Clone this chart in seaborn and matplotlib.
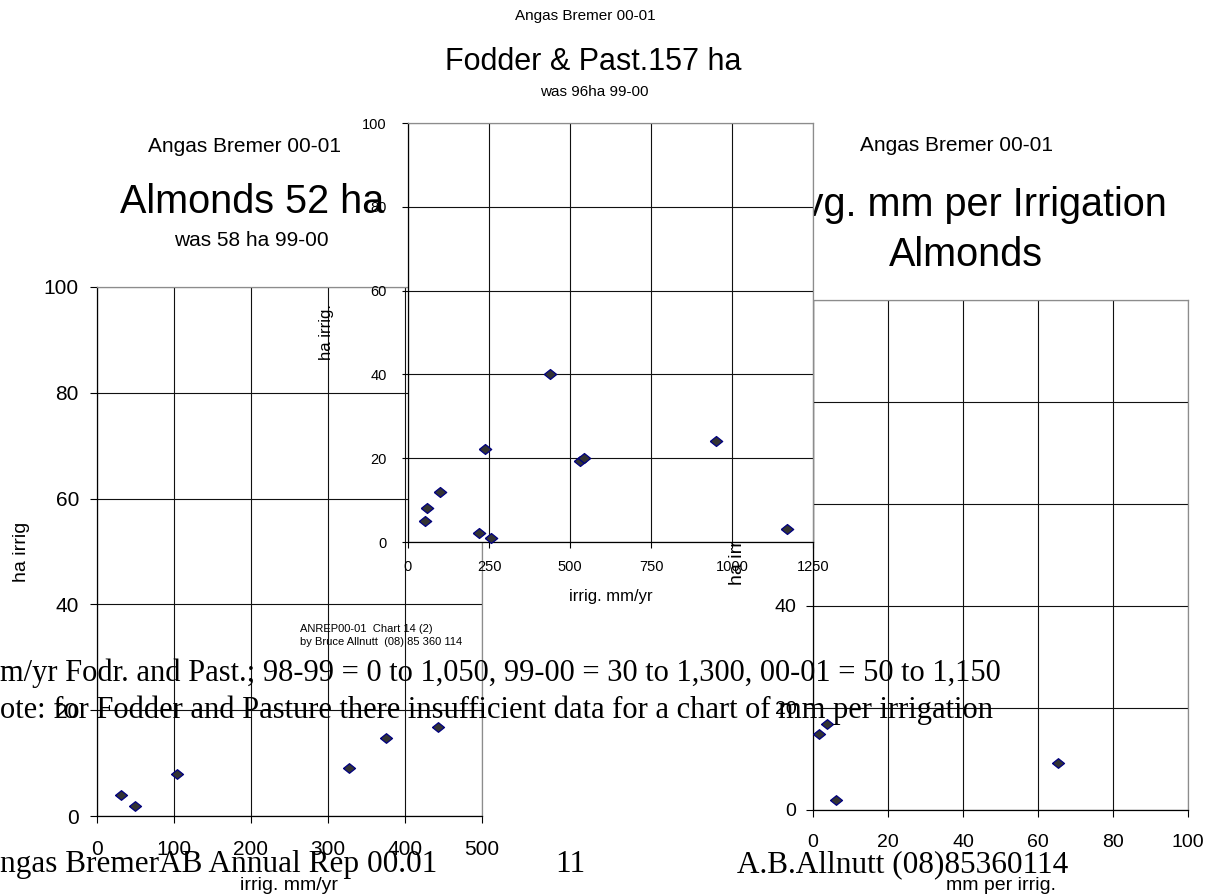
import matplotlib
matplotlib.use("Agg")
import matplotlib.pyplot as plt
import pandas as pd
import seaborn as sns

# -----------------------------
# Data
# -----------------------------
almond_mm_yr = [31.6, 49.8, 104.3, 326.8, 374.9, 443.5]
almond_ha = [3.9, 1.9, 7.9, 9.1, 14.8, 16.9]

fodder_mm_yr = [53.5, 57.6, 97.7, 218.0, 238.7, 255.0, 438.0, 530.0, 544.0, 951.6, 1171.0]
fodder_ha = [5.0, 8.0, 12.0, 2.1, 22.1, 1.0, 40.0, 19.4, 20.0, 24.1, 3.0]

almond_mm_per_irrig = [1.5, 3.6, 6.2, 65.3]
almond_ha_per_irrig = [14.9, 16.9, 2.0, 9.2]

almond_xticks = [0, 100, 200, 300, 400, 500]
fodder_xticks = [0, 250, 500, 750, 1000, 1250]
per_irrig_xticks = [0, 20, 40, 60, 80, 100]
ha_yticks = [0, 20, 40, 60, 80, 100]

# -----------------------------
# Configuration
# -----------------------------
sns.set_style("ticks")
plt.rcParams["font.family"] = ["Liberation Sans", "DejaVu Sans"]
plt.rcParams.update({"text.color": "black", "axes.labelcolor": "black",
                     "xtick.color": "black", "ytick.color": "black"})
SERIF = ["Liberation Serif", "DejaVu Serif"]

W, H = 1218, 896
fig = plt.figure(figsize=(W / 100, H / 100), dpi=100)
fig.patch.set_facecolor("white")

# excel style diamond, a little flatter than tall
DIAMOND = [(-1, 0), (0, 0.8), (1, 0), (0, -0.8), (-1, 0)]


def px(x, y):
    return x / W, 1 - y / H


def box(x0, y0, x1, y1):
    return [x0 / W, 1 - y1 / H, (x1 - x0) / W, (y1 - y0) / H]


def style_axes(ax, xticks, size, tick_len, pad_x, pad_y):
    ax.set_xlim(xticks[0], xticks[-1])
    ax.set_ylim(0, 100)
    ax.set_xticks(xticks)
    ax.set_yticks(ha_yticks)
    ax.grid(True, color="#111111", lw=0.8)
    ax.set_axisbelow(True)
    ax.set_facecolor("white")
    for side in ["top", "right"]:
        ax.spines[side].set_color("#8c8c8c")
        ax.spines[side].set_linewidth(0.9)
    for side in ["left", "bottom"]:
        ax.spines[side].set_color("black")
        ax.spines[side].set_linewidth(0.9)
    ax.tick_params(direction="out", length=tick_len, width=0.8, color="black",
                   labelsize=size, labelcolor="black")
    ax.tick_params(axis="x", pad=pad_x)
    ax.tick_params(axis="y", pad=pad_y)


def scatter(ax, x, y, s):
    df = pd.DataFrame({"x": x, "y": y})
    sns.scatterplot(data=df, x="x", y="y", ax=ax, marker=DIAMOND, s=s,
                    color="#333333", edgecolor="#000080", linewidth=0.9,
                    zorder=3, clip_on=False)


# 1. Almonds, ha vs irrig. mm/yr (left)
ax_l = fig.add_axes(box(97, 287, 482, 816), zorder=1)
scatter(ax_l, almond_mm_yr, almond_ha, 75)
style_axes(ax_l, almond_xticks, 15, 5, 12, 8)
ax_l.set_xlabel("irrig. mm/yr", fontsize=14, va="center")
ax_l.xaxis.set_label_coords(0.5, -0.132)
ax_l.set_ylabel("ha irrig", fontsize=14, va="center")
ax_l.yaxis.set_label_coords(-0.195, 0.5)
ax_l.text(*px(245, 147), "Angas Bremer 00-01", transform=fig.transFigure,
          ha="center", va="center", fontsize=15)
ax_l.text(*px(252, 202), "Almonds 52 ha", transform=fig.transFigure,
          ha="center", va="center", fontsize=28.5)
ax_l.text(*px(251, 240), "was 58 ha 99-00", transform=fig.transFigure,
          ha="center", va="center", fontsize=15)

# 2. Avg. mm per irrigation, almonds (right)
ax_r = fig.add_axes(box(813, 300, 1188, 810), zorder=1)
scatter(ax_r, almond_mm_per_irrig, almond_ha_per_irrig, 75)
style_axes(ax_r, per_irrig_xticks, 14, 5, 12, 7)
ax_r.set_xlabel("mm per irrig.", fontsize=14, va="center")
ax_r.xaxis.set_label_coords(0.5, -0.149)
ax_r.set_ylabel("ha irrig", fontsize=14, va="center")
ax_r.yaxis.set_label_coords(-0.2, 0.5)
ax_r.text(*px(956, 145), "Angas Bremer 00-01", transform=fig.transFigure,
          ha="center", va="center", fontsize=15)
ax_r.text(*px(972, 205), "Avg. mm per Irrigation", transform=fig.transFigure,
          ha="center", va="center", fontsize=28.5)
ax_r.text(*px(966, 255), "Almonds", transform=fig.transFigure,
          ha="center", va="center", fontsize=28.5)

# 3. Fodder & pasture (middle, drawn on top of the other two)
ax_m = fig.add_axes(box(408, 123, 813, 542), zorder=2)
scatter(ax_m, fodder_mm_yr, fodder_ha, 80)
style_axes(ax_m, fodder_xticks, 10.5, 4.3, 9, 11)
ax_m.set_xlabel("irrig. mm/yr", fontsize=12, va="center")
ax_m.xaxis.set_label_coords(0.5, -0.131)
ax_m.set_ylabel("ha irrig.", fontsize=12, va="center")
ax_m.yaxis.set_label_coords(-0.2, 0.5)

fig.text(*px(585, 16), "Angas Bremer 00-01", ha="center", va="center", fontsize=11)
fig.text(*px(593, 62), "Fodder & Past.157 ha", ha="center", va="center", fontsize=22)
fig.text(*px(594, 92), "was 96ha 99-00", ha="center", va="center", fontsize=11)

# chart reference note
fig.text(*px(300, 629), "ANREP00-01  Chart 14 (2)", ha="left", va="center", fontsize=8)
fig.text(*px(300, 642), "by Bruce Allnutt  (08) 85 360 114", ha="left", va="center", fontsize=8)

# page text running across the charts
fig.text(*px(0, 673), "m/yr Fodr. and Past.; 98-99 = 0 to 1,050, 99-00 = 30 to 1,300, 00-01 = 50 to 1,150",
         ha="left", va="center", fontsize=22, family=SERIF)
fig.text(*px(0, 710), "ote: for Fodder and Pasture there insufficient data for a chart of mm per irrigation",
         ha="left", va="center", fontsize=22, family=SERIF)
fig.text(*px(0, 872), "ngas BremerAB Annual Rep 00.01", ha="left", va="baseline",
         fontsize=22.5, family=SERIF)
fig.text(*px(570, 872), "11", ha="center", va="baseline", fontsize=22.5, family=SERIF)
fig.text(*px(737, 872), "A.B.Allnutt (08)85360114", ha="left", va="baseline",
         fontsize=22.5, family=SERIF)

fig.savefig("out.png", dpi=100, facecolor="white")
plt.close(fig)
